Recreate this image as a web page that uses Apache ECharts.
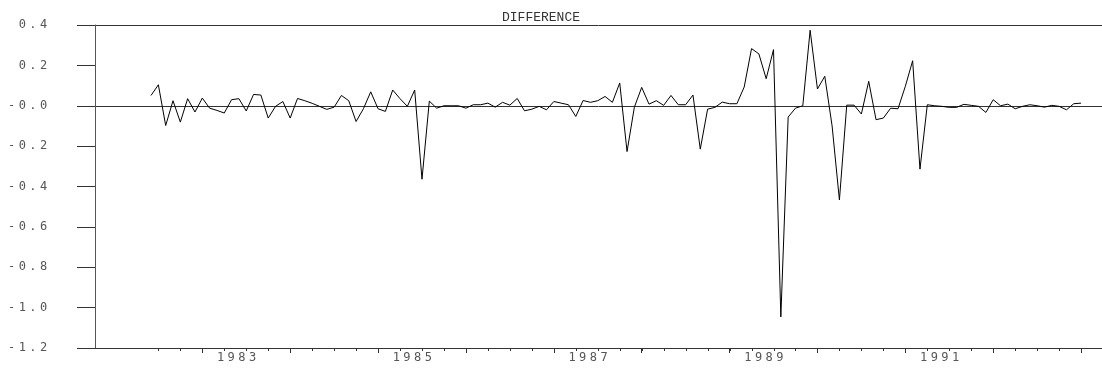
<!DOCTYPE html>
<html>
<head>
<meta charset="utf-8">
<script src="https://cdn.jsdelivr.net/npm/echarts@6/dist/echarts.min.js"></script>
<style>
  html, body { margin: 0; padding: 0; background: #fff; }
  #chart { width: 1102px; height: 370px; }
</style>
</head>
<body>
<div id="chart"></div>
<script>
// monthly series, first value is June 1982
const startYear = 1982
const startMonth = 6
const diffValues = [
  0.051, 0.104, -0.098, 0.025, -0.081, 0.035, -0.031, 0.038, -0.012, -0.023,
  -0.036, 0.030, 0.035, -0.026, 0.056, 0.053, -0.061, -0.003, 0.021, -0.061,
  0.036, 0.025, 0.012, -0.003, -0.018, -0.007, 0.051, 0.025, -0.078, -0.015,
  0.069, -0.015, -0.028, 0.078, 0.035, -0.003, 0.078, -0.364, 0.023, -0.012,
  0.000, 0.000, 0.000, -0.012, 0.005, 0.005, 0.013, -0.007, 0.017, 0.003,
  0.036, -0.025, -0.017, -0.003, -0.020, 0.021, 0.013, 0.005, -0.053, 0.026,
  0.017, 0.025, 0.046, 0.017, 0.113, -0.227, -0.007, 0.091, 0.008, 0.025,
  0.002, 0.051, 0.005, 0.005, 0.053, -0.215, -0.017, -0.008, 0.018, 0.010,
  0.010, 0.093, 0.283, 0.257, 0.134, 0.278, -1.046, -0.056, -0.012, 0.000,
  0.374, 0.083, 0.146, -0.100, -0.467, 0.003, 0.003, -0.041, 0.121, -0.069,
  -0.061, -0.012, -0.015, 0.096, 0.223, -0.314, 0.005, 0.000, -0.003, -0.008,
  -0.008, 0.007, 0.002, -0.003, -0.033, 0.030, 0.000, 0.008, -0.015, -0.003,
  0.005, 0.000, -0.007, 0.002, -0.003, -0.020, 0.010, 0.013
]

// axis ticks and labels
const yTickValues = [-1.2, -1.0, -0.8, -0.6, -0.4, -0.2, 0, 0.2, 0.4]
const yTickLabels = ['-1.2', '-1.0', '-0.8', '-0.6', '-0.4', '-0.2', '-0.0', '0.2', '0.4']
const labelYears = [1983, 1985, 1987, 1989, 1991]
const yearTicks = [1983, 1984, 1985, 1986, 1987, 1988, 1989, 1990, 1991, 1992, 1993]
const quarterTicks = []
for (let q = 1982.5; q <= 1993; q += 0.25) quarterTicks.push(q)

const xMin = 1981.779
const xMax = 1993.238
const yMin = -1.2
const yMax = 0.4
const labelShift = 0.39 // year label sits a bit into the year
const monoFont = 'DejaVu Sans Mono'

// each char in a fixed cell, like the spaced-out original
function spaced(str) {
  if (str == null) return ''
  return String(str).split('').map(c => '{c|' + c + '}').join('')
}
function yLabel(v) {
  const idx = yTickValues.findIndex(t => Math.abs(t - v) < 1e-6)
  return idx >= 0 ? spaced(yTickLabels[idx]) : ''
}
const cellRich = {
  c: { width: 10.7, align: 'center', fontFamily: monoFont, fontSize: 12, color: '#555' }
}
const tr = 'rgba(0,0,0,0)'

// short quarter marks under the axis, placed through the axes
function tickSeries(data, dy) {
  return {
    type: 'custom',
    coordinateSystem: 'cartesian2d',
    clip: false,
    silent: true,
    z: 3,
    data,
    renderItem(params, api) {
      const p = api.coord([api.value(0), api.value(1)])
      const x = Math.round(p[0]) + 0.5
      return {
        type: 'line',
        shape: { x1: x, y1: p[1], x2: x, y2: p[1] + dy },
        style: { stroke: '#333', lineWidth: 1 }
      }
    }
  }
}

const seriesData = diffValues.map((v, i) => [startYear + (startMonth - 1 + i) / 12, v])

const myChart = echarts.init(document.getElementById('chart'))
myChart.setOption({
  animation: false,
  title: {
    text: 'DIFFERENCE',
    left: 497,
    top: 6,
    textStyle: {
      fontFamily: 'Liberation Mono',
      fontSize: 13,
      fontWeight: 'normal',
      color: '#333'
    }
  },
  grid: {
    left: 95,
    right: 0,
    top: 25,
    bottom: 22,
    containLabel: false,
    outerBoundsMode: 'none'
  },
  xAxis: {
    type: 'value',
    min: xMin,
    max: xMax,
    axisLine: { show: true, onZero: false, lineStyle: { color: '#333', width: 1 } },
    axisTick: {
      show: true,
      inside: false,
      length: 5,
      customValues: yearTicks,
      lineStyle: { color: '#333', width: 1 }
    },
    axisLabel: {
      show: true,
      margin: 4,
      customValues: labelYears.map(y => y + labelShift),
      formatter: v => spaced(String(Math.round(v - labelShift))),
      rich: cellRich
    },
    splitLine: { show: false }
  },
  yAxis: {
    type: 'value',
    min: yMin,
    max: yMax,
    interval: 0.2,
    axisLine: { show: true, onZero: false, lineStyle: { color: '#555', width: 1 } },
    axisTick: { show: true, inside: false, length: 18, lineStyle: { color: '#333', width: 1 } },
    axisLabel: {
      margin: 46,
      align: 'right',
      formatter: v => yLabel(v),
      rich: cellRich
    },
    // only the zero line and the top border run across
    splitLine: {
      show: true,
      lineStyle: {
        width: 1,
        color: [tr, tr, tr, tr, tr, tr, '#333', tr, '#333']
      }
    }
  },
  series: [
    {
      type: 'line',
      data: seriesData,
      showSymbol: false,
      lineStyle: { color: '#000', width: 1 }
    },
    tickSeries(quarterTicks.map(q => [q, yMin]), 3)
  ]
})
</script>
</body>
</html>
